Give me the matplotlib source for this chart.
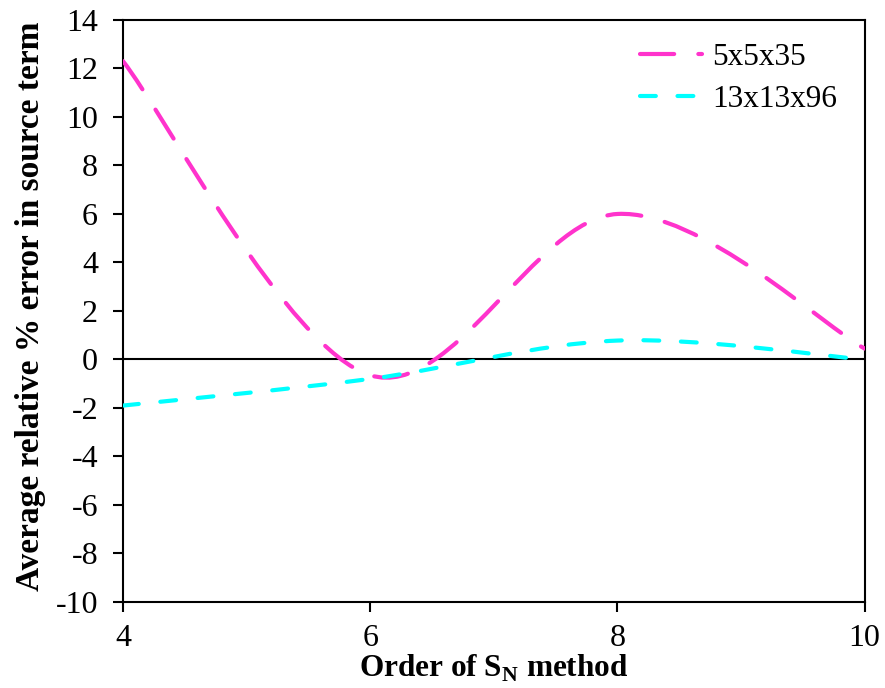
import matplotlib
matplotlib.use("Agg")
import matplotlib.pyplot as plt
from matplotlib.path import Path
from matplotlib.patches import PathPatch
from matplotlib.lines import Line2D

# S_N orders and average relative % error in source term
orders = [4, 6, 8, 10]
err_5x5x35 = [12.3, -0.65, 6.0, 0.45]
err_13x13x96 = [-1.9, -0.8, 0.78, 0.0]

labels = ["5x5x35", "13x13x96"]
colors = ["#FF33CC", "#00FFFF"]
dashes = [(8.2, 5.8), (3.8, 5.2)]

plt.rcParams['font.family'] = ['Liberation Serif', 'DejaVu Serif']
plt.rcParams['axes.unicode_minus'] = False


def smooth_path(xs, ys):
    # Excel-style smoothed line: cubic Bezier through each point
    pts = list(zip(xs, ys))
    n = len(pts)
    verts = [pts[0]]
    codes = [Path.MOVETO]
    for i in range(n - 1):
        p0 = pts[max(i - 1, 0)]
        p1 = pts[i]
        p2 = pts[i + 1]
        p3 = pts[min(i + 2, n - 1)]
        c1 = (p1[0] + (p2[0] - p0[0]) / 6, p1[1] + (p2[1] - p0[1]) / 6)
        c2 = (p2[0] - (p3[0] - p1[0]) / 6, p2[1] - (p3[1] - p1[1]) / 6)
        verts += [c1, c2, p2]
        codes += [Path.CURVE4] * 3
    return Path(verts, codes)


fig = plt.figure(figsize=(8.85, 6.88), dpi=100)
ax = fig.add_axes([0.139, 0.125, 0.838, 0.846])

ax.axhline(0, color='black', lw=1.5, zorder=1)

handles = []
for ys, lab, col, ds in zip([err_5x5x35, err_13x13x96], labels, colors, dashes):
    patch = PathPatch(smooth_path(orders, ys), facecolor='none', edgecolor=col,
                      lw=3, capstyle='round', zorder=3)
    patch.set_linestyle((0, ds))
    ax.add_patch(patch)
    handles.append(Line2D([], [], color=col, lw=3, dashes=ds,
                          dash_capstyle='round', label=lab))

ax.set_xlim(4, 10)
ax.set_ylim(-10, 14)
ax.set_xticks([4, 6, 8, 10])
ax.set_yticks(range(-10, 15, 2))
ax.tick_params(axis='both', direction='out', length=7, width=1.5,
               labelsize=23, pad=11)
ax.tick_params(axis='x', pad=9)
for s in ax.spines.values():
    s.set_linewidth(1.5)

ax.set_xlabel(r'Order of S$_\mathregular{N}$ method', fontsize=22.5,
              fontweight='bold')
ax.xaxis.set_label_coords(0.5, -0.088)
ax.set_ylabel('Average relative % error in source term', fontsize=24,
              fontweight='bold')
ax.yaxis.set_label_coords(-0.104, 0.508)

ax.legend(handles=handles, loc='upper right', frameon=False, fontsize=22.5,
          handlelength=2.0, handletextpad=0.3, labelspacing=0.42,
          bbox_to_anchor=(0.996, 1.003), borderaxespad=0.4)

fig.savefig('out.png', dpi=100)
